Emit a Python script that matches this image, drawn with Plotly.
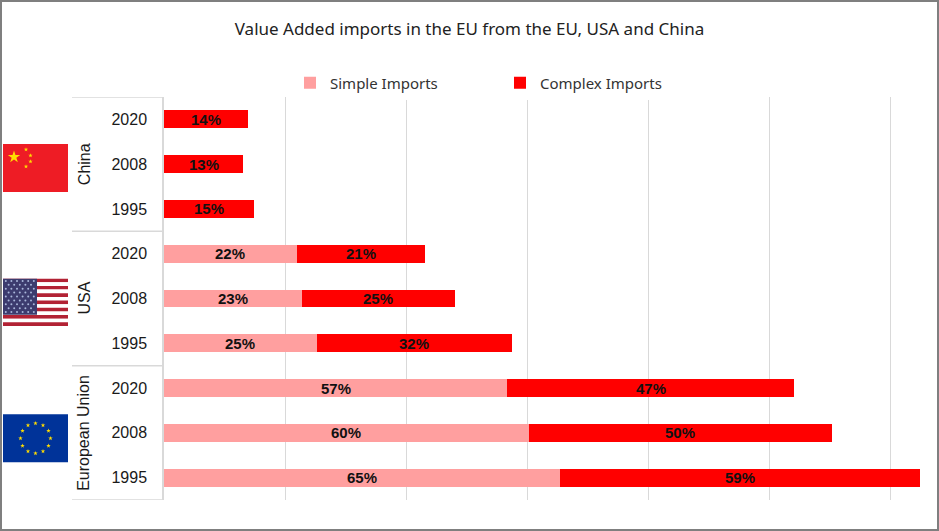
import math
import plotly.graph_objects as go

# Data (percent of value added imports), bottom to top within each group
groups = ['European Union', 'USA', 'China']
years = ['1995', '2008', '2020']

eu_simple = [65.4, 60.2, 56.7]
eu_complex = [59.4, 50.1, 47.3]
usa_simple = [25.2, 22.8, 21.9]
usa_complex = [32.2, 25.2, 21.2]
china_simple = [0, 0, 0]
china_complex = [14.8, 13.1, 13.9]

simple = eu_simple + usa_simple + china_simple
complex_ = eu_complex + usa_complex + china_complex
cats = [g + ' ' + y for g in groups for y in years]
cat_years = [y for g in groups for y in years]

W, H = 939, 531
L, R, T, B = 164, 15, 97, 31
PW = W - L - R
PH = H - T - B


def px(x):
    return (x - L) / PW


def py(y):
    return (H - B - y) / PH


def star_path(cx, cy, r_out, angle=-90.0):
    """SVG path (paper coords) of a 5 point star centred at pixel cx, cy."""
    r_in = r_out * 0.382
    pts = []
    for i in range(10):
        r = r_out if i % 2 == 0 else r_in
        a = math.radians(angle + i * 36)
        pts.append((px(cx + r * math.cos(a)), py(cy + r * math.sin(a))))
    return 'M' + 'L'.join(f'{a:.5f},{b:.5f}' for a, b in pts) + 'Z'


def rect(x0, y0, x1, y1, color):
    return dict(type='rect', xref='paper', yref='paper', x0=px(x0), x1=px(x1),
                y0=py(y1), y1=py(y0), fillcolor=color, line=dict(width=0), layer='above')


fig = go.Figure()
fig.add_trace(go.Bar(y=cats, x=simple, orientation='h', name='Simple Imports',
                     marker=dict(color='#FF9F9F', line=dict(width=0))))
fig.add_trace(go.Bar(y=cats, x=complex_, orientation='h', name='Complex Imports',
                     marker=dict(color='#FF0000', line=dict(width=0))))

# data labels centred in each segment
label_font = dict(family='Liberation Sans', size=15, color='#111111')
annotations = []
for c, s, k in zip(cats, simple, complex_):
    if s > 0:
        annotations.append(dict(x=s / 2, y=c, text=f'<b>{s:.0f}%</b>', showarrow=False,
                                font=label_font))
    annotations.append(dict(x=s + k / 2, y=c, text=f'<b>{k:.0f}%</b>', showarrow=False,
                            font=label_font))

# group labels, rotated
for i, g in enumerate(groups):
    annotations.append(dict(x=px(84), xref='paper', xanchor='center', yanchor='middle',
                            y=cats[i * 3 + 1], text=g, textangle=-90, showarrow=False,
                            font=dict(family='Liberation Sans', size=16, color='#1a1a1a')))

shapes = []
# group dividers in the axis area
for yv in [-0.5, 2.5, 5.5, 8.5]:
    shapes.append(dict(type='line', xref='paper', yref='y', x0=px(72), x1=0, y0=yv, y1=yv,
                       line=dict(color='#d9d9d9', width=1.5)))

# China flag
shapes.append(rect(3, 144, 68, 192, '#EE1C25'))
shapes.append(dict(type='path', xref='paper', yref='paper', path=star_path(14, 157, 6.5),
                   fillcolor='#FFDE00', line=dict(width=0), layer='above'))
for sx, sy in [(26, 149.5), (30.5, 155.5), (30.5, 161.5), (26, 166.5)]:
    shapes.append(dict(type='path', xref='paper', yref='paper', path=star_path(sx, sy, 2.3),
                       fillcolor='#FFDE00', line=dict(width=0), layer='above'))

# USA flag
fy0, fy1 = 278.7, 326
sh = (fy1 - fy0) / 13
for i in range(13):
    shapes.append(rect(3, fy0 + i * sh, 68, fy0 + (i + 1) * sh,
                       '#B22234' if i % 2 == 0 else '#FFFFFF'))
shapes.append(rect(3, fy0, 37, 314.7, '#3C3B6E'))
for r in range(9):
    ncol = 6 if r % 2 == 0 else 5
    for cidx in range(ncol):
        cx = 5.8 + cidx * 5.6 + (0 if r % 2 == 0 else 2.8)
        cy = fy0 + 2.2 + r * 3.9
        shapes.append(dict(type='circle', xref='paper', yref='paper',
                           x0=px(cx - 1), x1=px(cx + 1), y0=py(cy + 1), y1=py(cy - 1),
                           fillcolor='#A9B6DA', line=dict(width=0), layer='above'))

# EU flag
shapes.append(rect(3, 414.3, 68, 462.3, '#003399'))
for i in range(12):
    a = math.radians(-90 + i * 30)
    shapes.append(dict(type='path', xref='paper', yref='paper',
                       path=star_path(35.5 + 15 * math.cos(a), 438.3 + 15 * math.sin(a), 2.4),
                       fillcolor='#FFDD00', line=dict(width=0), layer='above'))

# outer border
shapes.append(dict(type='rect', xref='paper', yref='paper', x0=px(1), x1=px(938),
                   y0=py(530), y1=py(1), line=dict(color='#7f7f7f', width=2)))

fig.update_layout(
    width=W, height=H,
    margin=dict(l=L, r=R, t=T, b=B),
    paper_bgcolor='white', plot_bgcolor='white',
    barmode='stack', bargap=0.6,
    title=dict(text='Value Added imports in the EU from the EU, USA and China',
               x=0.5, xref='container', y=1 - 29 / H, yref='container', yanchor='middle',
               font=dict(family='Noto Sans', size=17, color='#222222')),
    legend=dict(orientation='h', x=px(290), y=py(83), xanchor='left', yanchor='middle',
                entrywidth=165, entrywidthmode='pixels', traceorder='normal',
                font=dict(family='Noto Sans', size=15, color='#333333')),
    xaxis=dict(range=[0, 125.5], dtick=20, showgrid=True, gridcolor='#d9d9d9', gridwidth=1,
               showticklabels=False, zeroline=False, ticks='', fixedrange=True),
    yaxis=dict(type='category', categoryorder='array', categoryarray=cats,
               tickmode='array', tickvals=cats, ticktext=cat_years, ticks='',
               ticklabelstandoff=12, showline=True, linecolor='#d9d9d9', linewidth=1.5,
               tickfont=dict(family='Liberation Sans', size=16, color='#1a1a1a'),
               range=[-0.5, 8.5], fixedrange=True),
    annotations=annotations,
    shapes=shapes,
    showlegend=True,
)

# the page body has a default margin; drop it so the figure fills the window
fig.write_html('out.html', config={'displayModeBar': False},
               post_script="document.body.style.margin='0';")
